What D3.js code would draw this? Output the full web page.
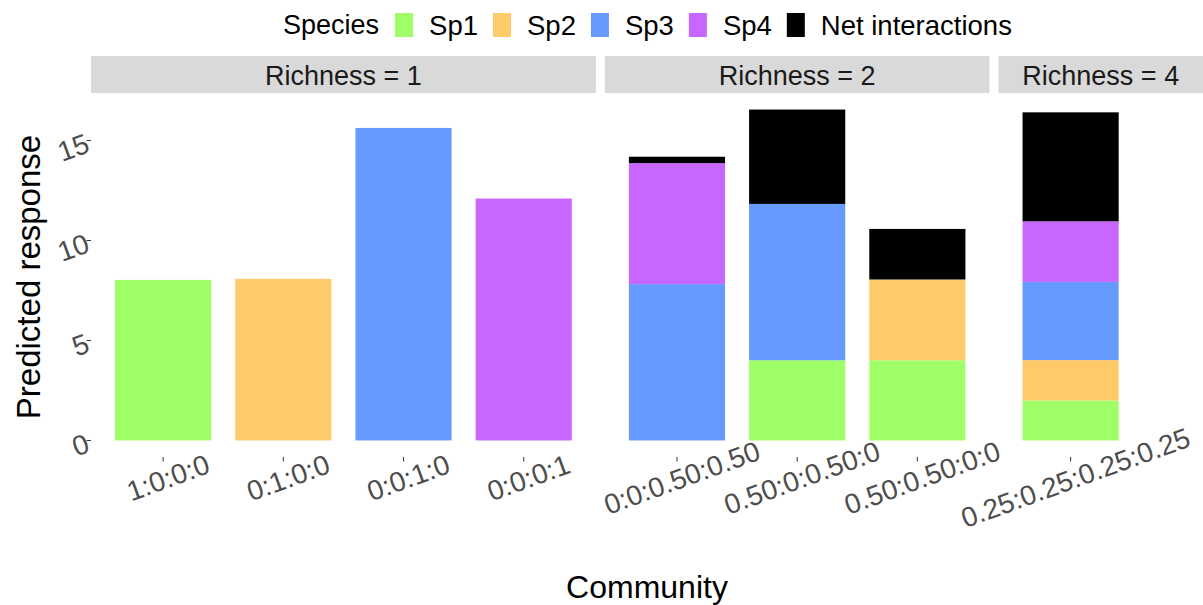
<!DOCTYPE html>
<html>
<head>
<meta charset="utf-8">
<script src="https://cdn.jsdelivr.net/npm/d3@7"></script>
<style>
  html, body { margin: 0; padding: 0; background: #fff; }
  svg { display: block; font-family: "Liberation Sans", Arial, sans-serif; }
</style>
</head>
<body>
<svg id="chart" width="1203" height="605"></svg>
<script>
// ---- data ----
const communities = ["1:0:0:0", "0:1:0:0", "0:0:1:0", "0:0:0:1",
                     "0:0:0.50:0.50", "0.50:0:0.50:0", "0.50:0.50:0:0",
                     "0.25:0.25:0.25:0.25"];
const richness = [1, 1, 1, 1, 2, 2, 2, 4];
const sp1 = [8.03, 0, 0, 0, 0, 4.01, 4.01, 2.00];
const sp2 = [0, 8.08, 0, 0, 0, 0, 4.04, 2.02];
const sp3 = [0, 0, 15.63, 0, 7.82, 7.82, 0, 3.91];
const sp4 = [0, 0, 0, 12.10, 6.05, 0, 0, 3.03];
const net = [0, 0, 0, 0, 0.32, 4.72, 2.53, 5.45];
const seriesKeys = ["Sp1", "Sp2", "Sp3", "Sp4", "Net interactions"];
const seriesColors = ["#9EFF66", "#FFCA6A", "#679AFF", "#C966FF", "#000000"];
const yTicks = [0, 5, 10, 15];
const facetLabels = ["Richness = 1", "Richness = 2", "Richness = 4"];

// ---- table ----
const rows = communities.map((c, i) => ({
  community: c, richness: richness[i],
  "Sp1": sp1[i], "Sp2": sp2[i], "Sp3": sp3[i], "Sp4": sp4[i], "Net interactions": net[i]
}));
const stacked = d3.stack().keys(seriesKeys)(rows);
const maxTotal = d3.max(rows, r => seriesKeys.reduce((s, k) => s + r[k], 0));

// ---- layout ----
const W = 1203, H = 605;
const panelTop = 93, panelBottom = 457;
const stripTop = 56;
const left = 91, unit = 120.2, gap = 9;
const svg = d3.select("#chart");
const color = d3.scaleOrdinal().domain(seriesKeys).range(seriesColors);

const pad = maxTotal * 0.05;
const y = d3.scaleLinear().domain([-pad, maxTotal + pad]).range([panelBottom, panelTop]);

const groups = d3.groups(rows, d => d.richness);
let xCursor = left;
groups.forEach(([rich, grp], gi) => {
  const pw = (grp.length + 0.2) * unit;
  const x0 = xCursor, x1 = xCursor + pw;
  const x = d3.scaleBand().domain(grp.map(d => d.community))
    .range([x0, x1]).paddingInner(0.2).paddingOuter(0.2);
  const stripRight = gi === groups.length - 1 ? W : x1;

  // strip
  svg.append("rect").attr("x", x0).attr("y", stripTop)
    .attr("width", stripRight - x0).attr("height", panelTop - stripTop)
    .attr("fill", "#D9D9D9");
  svg.append("text").attr("x", (x0 + stripRight) / 2).attr("y", (stripTop + panelTop) / 2 + 1)
    .attr("text-anchor", "middle").attr("dominant-baseline", "central")
    .attr("font-size", 27).attr("fill", "#1A1A1A").text(facetLabels[gi]);

  // bars
  stacked.forEach(layer => {
    const g = svg.append("g").attr("fill", color(layer.key));
    layer.forEach((seg, i) => {
      const row = rows[i];
      if (row.richness !== rich) return;
      if (seg[1] - seg[0] <= 0) return;
      g.append("rect")
        .attr("x", x(row.community))
        .attr("width", x.bandwidth())
        .attr("y", y(seg[1]))
        .attr("height", y(seg[0]) - y(seg[1]));
    });
  });

  // x axis ticks + labels
  const xa = svg.append("g");
  grp.forEach(d => {
    const cx = x(d.community) + x.bandwidth() / 2;
    xa.append("line").attr("x1", cx).attr("x2", cx)
      .attr("y1", panelBottom).attr("y2", panelBottom + 4.5)
      .attr("stroke", "#333").attr("stroke-width", 1);
    xa.append("text")
      .attr("transform", `translate(${cx + 5},${panelBottom + 21}) rotate(-20)`)
      .attr("text-anchor", "middle").attr("dominant-baseline", "central")
      .attr("font-size", 28).attr("fill", "#4D4D4D").text(d.community);
  });

  // y axis on first panel
  if (gi === 0) {
    const ya = svg.append("g");
    yTicks.forEach(t => {
      ya.append("line").attr("x1", x0 - 4.5).attr("x2", x0)
        .attr("y1", y(t)).attr("y2", y(t)).attr("stroke", "#333");
      ya.append("text")
        .attr("transform", `translate(${x0 - 3},${y(t) + 2}) rotate(-20)`)
        .attr("text-anchor", "end").attr("dominant-baseline", "central")
        .attr("font-size", 28).attr("fill", "#4D4D4D").text(t);
    });
  }
  xCursor = x1 + gap;
});

// axis titles
svg.append("text").attr("x", (left + W) / 2).attr("y", 598)
  .attr("text-anchor", "middle").attr("font-size", 32).attr("fill", "#000").text("Community");
svg.append("text").attr("transform", `translate(40,${(panelTop + panelBottom) / 2 + 2}) rotate(-90)`)
  .attr("text-anchor", "middle").attr("font-size", 33).attr("fill", "#000").text("Predicted response");

// legend
const leg = svg.append("g");
let lx = 283;
const title = leg.append("text").attr("x", lx).attr("y", 25).attr("dominant-baseline", "central")
  .attr("font-size", 27).attr("fill", "#000").text("Species");
lx += title.node().getComputedTextLength() + 16;
seriesKeys.forEach(k => {
  leg.append("rect").attr("x", lx).attr("y", 13).attr("width", 18).attr("height", 24).attr("fill", color(k));
  lx += 18 + 16;
  const t = leg.append("text").attr("x", lx).attr("y", 25).attr("dominant-baseline", "central")
    .attr("font-size", 27.5).attr("fill", "#000").text(k);
  lx += t.node().getComputedTextLength() + 15;
});
</script>
</body>
</html>
